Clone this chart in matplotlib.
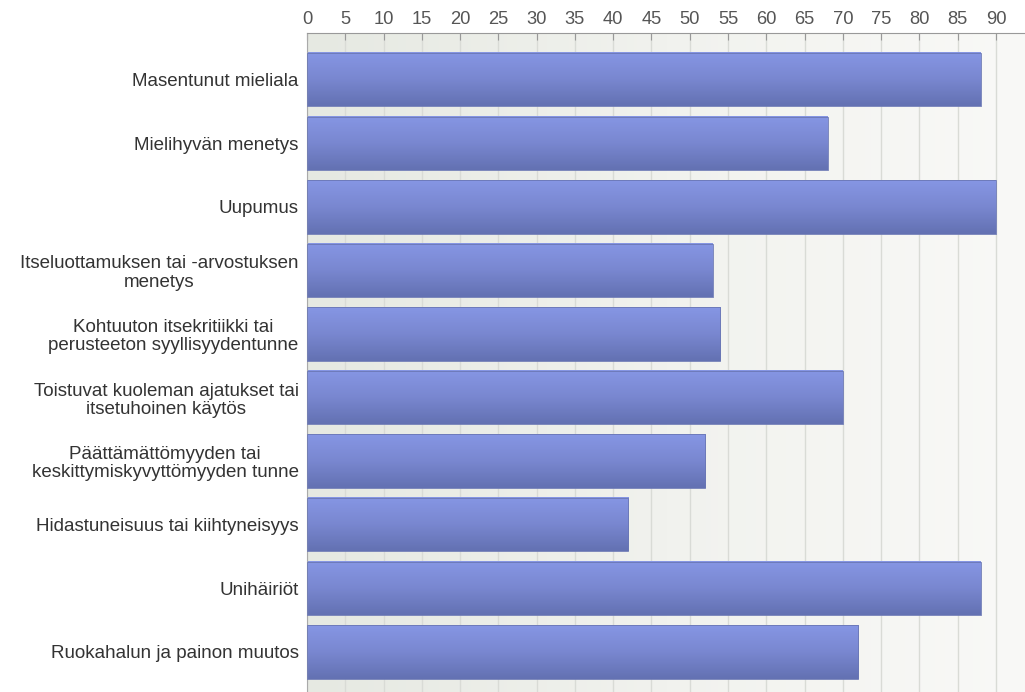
"""Horizontal bar chart: masennuksen oireet (gradient bars, top x-axis)."""
import matplotlib
matplotlib.use("Agg")
import matplotlib.pyplot as plt
import numpy as np
from matplotlib.colors import LinearSegmentedColormap

categories = [
    "Masentunut mieliala",
    "Mielihyvän menetys",
    "Uupumus",
    "Itseluottamuksen tai -arvostuksen\nmenetys",
    "Kohtuuton itsekritiikki tai\nperusteeton syyllisyydentunne",
    "Toistuvat kuoleman ajatukset tai\nitsetuhoinen käytös",
    "Päättämättömyyden tai\nkeskittymiskyvyttömyyden tunne",
    "Hidastuneisuus tai kiihtyneisyys",
    "Unihäiriöt",
    "Ruokahalun ja painon muutos",
]
values = [88, 68, 90, 53, 54, 70, 52, 42, 88, 72]
x_ticks = list(range(0, 95, 5))

plt.rcParams["font.family"] = ["Liberation Sans", "DejaVu Sans"]

fig = plt.figure(figsize=(10.25, 6.92), dpi=100)
ax = fig.add_axes([0.2995, 0.0, 0.7005, 0.952])

xmax = 93.8
ytop, ybot = -0.73, 9.63
bar_h = 0.84

# background gradient (greyish green -> near white)
bg_cmap = LinearSegmentedColormap.from_list("bg", ["#e6e9e2", "#f1f2ee", "#f9f9f7"])
bg = np.linspace(0, 1, 256).reshape(1, -1)
ax.imshow(bg, extent=(0, xmax, ybot, ytop), aspect="auto", cmap=bg_cmap,
          origin="upper", zorder=0, interpolation="bicubic")

# vertical gridlines
for t in x_ticks:
    ax.axvline(t, color="#d9dbd6", lw=1.0, zorder=1)

# bars with vertical gradient
bar_cmap = LinearSegmentedColormap.from_list("bar", ["#8696e4", "#7987d0", "#6371b2"])
grad = np.linspace(0, 1, 128).reshape(-1, 1)
for i, v in enumerate(values):
    ax.imshow(grad, extent=(0, v, i + bar_h / 2, i - bar_h / 2), aspect="auto",
              cmap=bar_cmap, origin="upper", zorder=2, interpolation="bicubic")
ax.barh(range(len(values)), values, height=bar_h, facecolor="none",
        edgecolor="#6a77b4", linewidth=0.6, zorder=3)

ax.set_xlim(0, xmax)
ax.set_ylim(ybot, ytop)

ax.xaxis.tick_top()
ax.set_xticks(x_ticks)
ax.set_xticklabels([str(t) for t in x_ticks])
ax.tick_params(axis="x", direction="in", length=5, color="#999999",
               labelsize=13.2, labelcolor="#555555", pad=4)

ax.set_yticks(range(len(categories)))
ax.set_yticklabels(categories, multialignment="center", linespacing=1.1)
ax.tick_params(axis="y", length=0, labelsize=13.5, labelcolor="#333333", pad=6)

for side in ("right", "bottom"):
    ax.spines[side].set_visible(False)
ax.spines["top"].set_color("#999999")
ax.spines["left"].set_color("#aaaaaa")

fig.savefig("out.png", dpi=100)
